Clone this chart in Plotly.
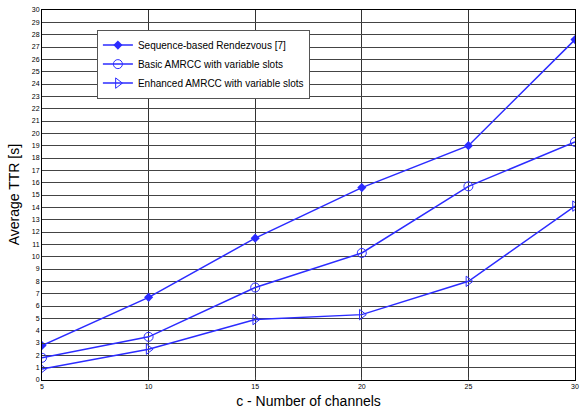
import plotly.graph_objects as go

channels = [5, 10, 15, 20, 25, 30]
seq_rendezvous = [2.8, 6.7, 11.5, 15.6, 19.0, 27.6]
basic_amrcc = [1.8, 3.5, 7.5, 10.3, 15.7, 19.3]
enhanced_amrcc = [0.9, 2.5, 4.9, 5.3, 8.0, 14.1]

names = ["Sequence-based Rendezvous [7]", "Basic AMRCC with variable slots",
         "Enhanced AMRCC with variable slots"]
blue = "#2b2bff"

fig = go.Figure()
fig.add_trace(go.Scatter(x=channels, y=seq_rendezvous, name=names[0], mode="lines+markers",
                         line=dict(color=blue, width=1.5),
                         marker=dict(symbol="diamond", size=7, color=blue)))
fig.add_trace(go.Scatter(x=channels, y=basic_amrcc, name=names[1], mode="lines+markers",
                         line=dict(color=blue, width=1.5),
                         marker=dict(symbol="circle-open", size=9, color=blue, line=dict(width=1))))
fig.add_trace(go.Scatter(x=channels, y=enhanced_amrcc, name=names[2], mode="lines+markers",
                         line=dict(color=blue, width=1.5),
                         marker=dict(symbol="triangle-right-open", size=9, color=blue, line=dict(width=1))))

fig.update_layout(
    width=588, height=409,
    margin=dict(l=42, r=13, t=10, b=29, autoexpand=False),
    paper_bgcolor="white", plot_bgcolor="white",
    font=dict(family="Liberation Sans, Arial, sans-serif", color="black"),
    showlegend=True,
    legend=dict(x=0.103, y=0.947, xanchor="left", yanchor="top",
                bgcolor="white", bordercolor="#555", borderwidth=1,
                font=dict(size=10), itemwidth=30, tracegroupgap=0),
    annotations=[dict(text="Average TTR [s]", textangle=-90, showarrow=False,
                      xref="paper", yref="paper", x=-0.052, y=0.5,
                      xanchor="center", yanchor="middle", font=dict(size=14))],
)
fig.update_xaxes(range=[5, 30], tickvals=channels, ticks="inside", ticklen=3,
                 tickfont=dict(size=7), showgrid=True, gridcolor="#333", gridwidth=1,
                 showline=True, linecolor="black", mirror=True, zeroline=False,
                 automargin=False,
                 title=dict(text="c - Number of channels", font=dict(size=14)))
fig.update_yaxes(range=[0, 30], dtick=1, ticks="inside", ticklen=3,
                 tickfont=dict(size=7), showgrid=True, gridcolor="#444", gridwidth=1,
                 showline=True, linecolor="black", mirror=True, zeroline=False,
                 automargin=False)

fig.write_html("out.html", config={"displayModeBar": False},
               post_script="document.body.style.margin='0';")
